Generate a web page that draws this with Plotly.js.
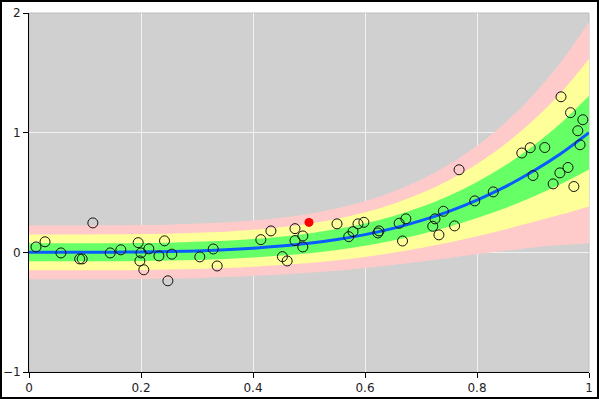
<!DOCTYPE html>
<html>
<head>
<meta charset="utf-8">
<script src="https://cdn.plot.ly/plotly-3.0.1.min.js"></script>
<style>
html,body{margin:0;padding:0;background:#fff;}
#frame{width:599px;height:399px;box-sizing:border-box;border:2px solid #000;overflow:hidden;}
#chart{width:595px;height:395px;}
</style>
</head>
<body>
<div id="frame"><div id="chart"></div></div>
<script>
// Curve and band half-width (1 sigma)
const gridX = [0,0.05,0.1,0.15,0.2,0.25,0.3,0.35,0.4,0.45,0.5,0.55,0.6,0.65,0.7,0.75,0.8,0.85,0.9,0.95,1];
const curveY = [0,0,0,0.001,0.003,0.006,0.012,0.021,0.034,0.052,0.075,0.107,0.148,0.2,0.265,0.343,0.437,0.547,0.677,0.826,1.0];
const sigma = [0.075,0.075,0.075,0.075,0.075,0.075,0.076,0.076,0.077,0.079,0.082,0.087,0.093,0.102,0.114,0.130,0.151,0.178,0.212,0.255,0.308];

// Observed points
const obsX = [0.0125,0.0286,0.057,0.0905,0.095,0.114,0.145,0.164,0.195,0.2,0.198,0.205,0.214,0.232,0.242,0.248,0.255,0.305,0.329,0.336,
  0.414,0.432,0.4525,0.461,0.475,0.475,0.489,0.489,0.55,0.571,0.5786,0.5875,0.598,0.623,0.625,0.661,0.673,0.667,0.721,0.725,0.732,0.74,
  0.76,0.768,0.796,0.829,0.88,0.895,0.9,0.921,0.936,0.948,0.95,0.9625,0.967,0.973,0.98,0.984,0.989];
const obsY = [0.045,0.088,-0.005,-0.055,-0.055,0.246,-0.005,0.021,0.081,-0.005,-0.072,-0.146,0.029,-0.03,0.096,-0.238,-0.015,-0.038,0.028,-0.114,
  0.106,0.179,-0.036,-0.072,0.198,0.098,0.137,0.045,0.238,0.131,0.173,0.238,0.251,0.162,0.179,0.243,0.28,0.095,0.218,0.28,0.146,0.343,
  0.221,0.69,0.43,0.505,0.83,0.874,0.642,0.876,0.572,0.664,1.3,0.709,1.167,0.55,1.016,0.899,1.108];

// Highlighted point
const hiX = [0.5];
const hiY = [0.25];

function band(k){ return curveY.map((v,i)=>v + k*sigma[i]); }

const bandColors = {3:'#ffcaca',2:'#ffff99',1:'#66ff66'};
const traces = [];
[3,2,1].forEach(k=>{
  traces.push({x:gridX,y:band(-k),type:'scatter',mode:'lines',line:{width:0,shape:'spline'},hoverinfo:'skip',showlegend:false});
  traces.push({x:gridX,y:band(k),type:'scatter',mode:'lines',line:{width:0,shape:'spline'},fill:'tonexty',fillcolor:bandColors[k],hoverinfo:'skip',showlegend:false});
});
traces.push({x:gridX,y:curveY,type:'scatter',mode:'lines',line:{color:'#0a5cff',width:3,shape:'spline'},showlegend:false});
traces.push({x:obsX,y:obsY,type:'scatter',mode:'markers',marker:{symbol:'circle-open',size:10,color:'#111',line:{width:1,color:'#111'}},showlegend:false});
traces.push({x:hiX,y:hiY,type:'scatter',mode:'markers',marker:{symbol:'circle',size:9,color:'#ff0000'},showlegend:false});

const layout = {
  width:595,height:395,
  margin:{l:27,r:8,t:11,b:25},
  paper_bgcolor:'#ffffff',
  plot_bgcolor:'#d0d0d0',
  showlegend:false,
  font:{family:'DejaVu Sans, sans-serif',size:12,color:'#222'},
  xaxis:{range:[0,1],tickvals:[0,0.2,0.4,0.6,0.8,1],ticktext:['0','0.2','0.4','0.6','0.8','1'],
    showgrid:true,gridcolor:'#f2f2f2',gridwidth:1,zeroline:false,
    showline:true,linecolor:'#000',linewidth:1,ticks:'outside',ticklen:5,tickcolor:'#000',fixedrange:true},
  yaxis:{range:[-1,2],tickvals:[-1,0,1,2],ticktext:['\u22121','0','1','2'],
    showgrid:true,gridcolor:'#f2f2f2',gridwidth:1,zeroline:false,
    showline:true,linecolor:'#000',linewidth:1,ticks:'outside',ticklen:5,tickcolor:'#000',fixedrange:true},
  shapes:[{type:'rect',xref:'paper',yref:'paper',x0:0,x1:1,y0:0,y1:1,line:{color:'#bdbdbd',width:1},layer:'below'}],
  hovermode:false
};
Plotly.newPlot('chart',traces,layout,{displayModeBar:false,staticPlot:true});
</script>
</body>
</html>
